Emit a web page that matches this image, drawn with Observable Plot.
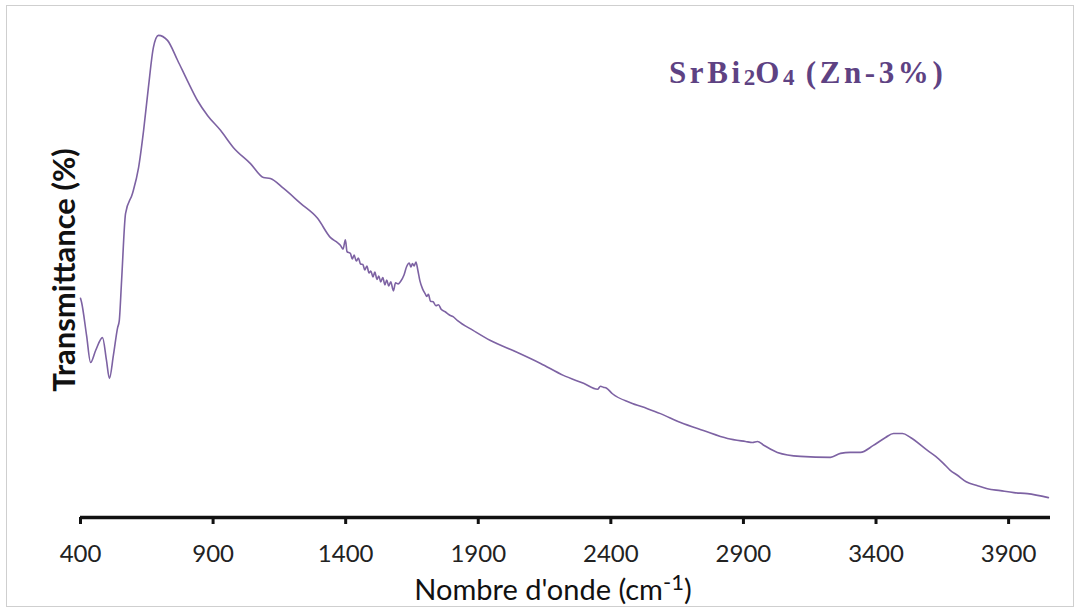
<!DOCTYPE html>
<html>
<head>
<meta charset="utf-8">
<script src="https://cdn.jsdelivr.net/npm/d3@7"></script>
<script src="https://cdn.jsdelivr.net/npm/@observablehq/plot@0.6"></script>
<style>
  html, body { margin: 0; padding: 0; background: #fff; }
  #wrap { position: relative; width: 1080px; height: 610px; overflow: hidden; }
  #frame { position: absolute; left: 6px; top: 5px; width: 1068px; height: 602px; border: 1px solid #cfcfcf; box-sizing: border-box; pointer-events: none; }
</style>
</head>
<body>
<div id="wrap"><div id="frame"></div></div>
<script>
// Wavenumber (cm-1)
const wavenumber = [
  400, 404, 423, 438, 457, 483, 498, 509, 524, 540, 546, 555, 570, 596, 619, 638, 656, 675, 694,
  728, 766, 803, 841, 879, 928, 977, 1041, 1090, 1116, 1166, 1230, 1294, 1343, 1369,
  1380, 1390, 1399, 1405, 1418, 1425, 1432, 1440, 1448, 1456, 1465, 1472, 1480, 1488, 1495,
  1503, 1510, 1518, 1525, 1532, 1540, 1548, 1555, 1562, 1570, 1580, 1588, 1598, 1607, 1620,
  1630, 1640, 1646, 1652, 1658, 1665, 1672, 1680, 1690, 1700, 1706, 1712, 1720, 1730, 1740,
  1750, 1760, 1775, 1790, 1805, 1822, 1882, 1946, 2048, 2135, 2221, 2297, 2350, 2361, 2372,
  2384, 2406, 2474, 2538, 2587, 2663, 2749, 2840, 2908, 2934, 2953, 2975, 3028, 3115, 3228,
  3266, 3303, 3341, 3390, 3436, 3466, 3500, 3530, 3594, 3625, 3654, 3680, 3707, 3740, 3783,
  3820, 3869, 3920, 3971, 4050
];
// Transmittance (%) — arbitrary units
const transmittance = [
  44.1, 43.3, 36.6, 31.2, 33.6, 36.2, 31.6, 28.0, 32.6, 38.2, 39.5, 47.7, 61.2, 65.2, 70.4, 77.9, 86.5, 94.6, 97.0,
  96.0, 92.0, 87.9, 83.9, 80.9, 77.9, 74.4, 71.2, 68.4, 68.2, 66.2, 63.2, 60.2, 56.3, 55.3,
  54.8, 54.0, 55.9, 53.5, 53.1, 52.0, 52.8, 51.6, 52.2, 51.0, 50.9, 49.8, 50.6, 49.2, 49.6,
  48.4, 49.4, 47.9, 48.6, 47.4, 48.3, 46.8, 47.8, 46.6, 47.4, 45.6, 47.2, 47.0, 47.5, 48.8,
  50.5, 51.2, 50.4, 51.1, 50.6, 51.4, 49.8, 47.6, 46.0, 45.0, 44.5, 44.9, 43.5, 43.4, 42.6,
  42.8, 41.9, 41.4, 40.8, 40.4, 39.6, 37.6, 35.6, 33.2, 31.0, 28.6, 27.0, 25.8, 26.4, 26.2,
  26.0, 24.9, 23.1, 21.9, 20.9, 19.1, 17.5, 15.9, 15.3, 15.1, 15.3, 14.6, 13.1, 12.3, 12.1,
  12.9, 13.1, 13.1, 14.5, 16.1, 16.9, 16.9, 16.1, 13.5, 12.3, 10.9, 9.5, 8.5, 7.2, 6.4,
  5.8, 5.4, 5.0, 4.8, 4.0
];
const xTicks = [400, 900, 1400, 1900, 2400, 2900, 3400, 3900];
const sampleLabel = ["SrBi", "2", "O", "4", " (Zn-3%)"];
const xTitle = ["Nombre d'onde (cm", "-1", ")"];
const yTitle = "Transmittance (%)";

const data = wavenumber.map((w, i) => ({w, t: transmittance[i]}));

const chart = Plot.plot({
  width: 1080,
  height: 610,
  marginLeft: 80,
  marginRight: 30,
  marginTop: 20,
  marginBottom: 93,
  style: {background: "transparent", fontFamily: "Lato, 'Open Sans', sans-serif"},
  x: {domain: [400, 4058], label: null},
  y: {domain: [0, 100], axis: null},
  marks: [
    Plot.line(data, {x: "w", y: "t", stroke: "#7d62a3", strokeWidth: 1.6, curve: "monotone-x"}),
    Plot.ruleY([0], {stroke: "#111", strokeWidth: 3.5}),
    Plot.axisX({ticks: xTicks, tickSize: 7, tickPadding: 20, fontSize: 24, strokeWidth: 3, stroke: "#111", fill: "#222", tickFormat: d => String(d), label: null})
  ]
});
document.getElementById("wrap").appendChild(chart);

const svg = d3.select(chart);
const xs = chart.scale("x");

// x-axis title with superscript
const xt = svg.append("text")
  .attr("x", (xs.range[0] + xs.range[1]) / 2 - 12)
  .attr("y", 600)
  .attr("text-anchor", "middle")
  .attr("font-family", "Lato, sans-serif")
  .attr("font-size", 29)
  .attr("fill", "#111");
xt.append("tspan").text(xTitle[0]);
xt.append("tspan").attr("dy", -10).attr("font-size", 22).text(xTitle[1]);
xt.append("tspan").attr("dy", 10).text(xTitle[2]);

// y-axis title
svg.append("text")
  .attr("transform", "translate(75,270) rotate(-90)")
  .attr("text-anchor", "middle")
  .attr("font-family", "Lato, sans-serif")
  .attr("font-weight", "bold")
  .attr("font-size", 31)
  .attr("fill", "#111")
  .text(yTitle);

// sample label with subscripts
const st = svg.append("text")
  .attr("x", 669)
  .attr("y", 83)
  .attr("text-anchor", "start")
  .attr("font-family", "'Liberation Serif', 'DejaVu Serif', serif")
  .attr("font-weight", "bold")
  .attr("font-size", 31)
  .attr("letter-spacing", 3.6)
  .attr("fill", "#5e4283");
st.append("tspan").text(sampleLabel[0]);
st.append("tspan").attr("dy", 2).attr("font-size", 23).attr("letter-spacing", 0).text(sampleLabel[1]);
st.append("tspan").attr("dy", -2).text(sampleLabel[2]);
st.append("tspan").attr("dy", 2).attr("font-size", 23).attr("letter-spacing", 0).text(sampleLabel[3]);
st.append("tspan").attr("dy", -2).text(sampleLabel[4]);
</script>
</body>
</html>
